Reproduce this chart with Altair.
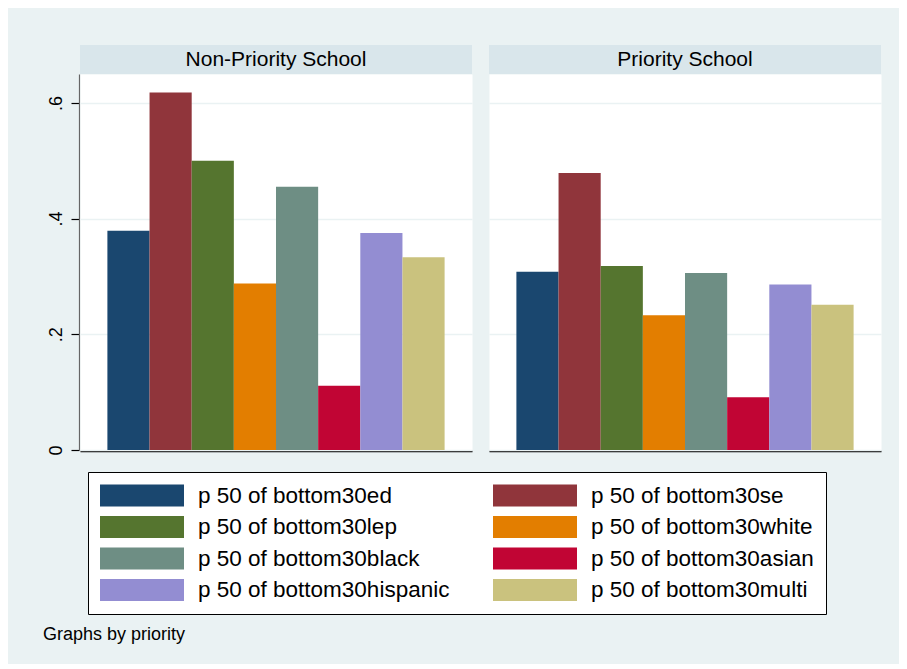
import altair as alt
import pandas as pd

series = [
    "p 50 of bottom30ed", "p 50 of bottom30se", "p 50 of bottom30lep",
    "p 50 of bottom30white", "p 50 of bottom30black", "p 50 of bottom30asian",
    "p 50 of bottom30hispanic", "p 50 of bottom30multi",
]
colors = ["#1A476F", "#90353B", "#55752F", "#E37E00",
          "#6E8E84", "#C10534", "#938DD2", "#CAC27E"]
schools = ["Non-Priority School", "Priority School"]
nonpriority = [0.379, 0.618, 0.500, 0.288, 0.455, 0.111, 0.375, 0.333]
priority = [0.308, 0.479, 0.318, 0.233, 0.306, 0.091, 0.286, 0.251]
yticks = [0, 0.2, 0.4, 0.6]

rows = []
for school, vals in zip(schools, [nonpriority, priority]):
    for i, (ser, v) in enumerate(zip(series, vals)):
        rows.append({"school": school, "series": ser, "value": v, "first": i == 0})
df = pd.DataFrame(rows)

W, H = 392, 376
FONT = "Liberation Sans"
BG = "#EAF2F3"

base = alt.Chart()

bars = base.mark_bar().encode(
    x=alt.X("series:N", sort=series, title=None,
            scale=alt.Scale(paddingInner=0, paddingOuter=0.65),
            axis=alt.Axis(labels=False, ticks=False, grid=False,
                          domainColor="black", domainWidth=1.5)),
    y=alt.Y("value:Q", title=None,
            scale=alt.Scale(domain=[0, 0.65], nice=False, zero=True),
            axis=alt.Axis(values=yticks,
                          labelExpr="datum.value == 0 ? '0' : replace(format(datum.value, '.1f'), '0.', '.')",
                          labelAngle=270, labelFontSize=18, labelColor="black",
                          labelPadding=6, tickSize=8, tickColor="black",
                          tickWidth=1.2, domainColor="#666666", domainWidth=1.2,
                          grid=True, gridColor=BG, gridWidth=1.5)),
    color=alt.Color("series:N", sort=series,
                    scale=alt.Scale(domain=series, range=colors),
                    legend=alt.Legend(
                        title=None, orient="none", legendX=8, legendY=398,
                        columns=2, direction="horizontal",
                        symbolType="M-1,-0.262L1,-0.262L1,0.262L-1,0.262Z",
                        symbolSize=7056, symbolStrokeWidth=0, symbolOpacity=1,
                        clipHeight=23,
                        labelFontSize=22.5, labelFont=FONT, labelColor="black",
                        labelOffset=14, labelLimit=400,
                        columnPadding=43, rowPadding=8.5, padding=12,
                        fillColor="white", strokeColor="black")),
)

strip = base.mark_rect(color="#D9E6EB").encode(
    x=alt.value(0), x2=alt.value(W), y=alt.value(-29), y2=alt.value(0)
).transform_filter("datum.first")

strip_text = base.mark_text(fontSize=21, font=FONT, color="black",
                            baseline="middle", align="center").encode(
    x=alt.value(W / 2), y=alt.value(-14.5), text="school:N"
).transform_filter("datum.first")

layer = alt.layer(bars, strip, strip_text).properties(width=W, height=H)

chart = layer.facet(
    column=alt.Column("school:N", sort=schools, header=None, title=None),
    data=df,
    spacing=15,
).properties(
    title=alt.TitleParams("Graphs by priority", orient="bottom", anchor="start",
                          fontSize=18, font=FONT, fontWeight="normal",
                          color="black", dx=-4, offset=11),
    padding={"left": 35, "top": 36, "right": 17, "bottom": 20},
    background=BG,
).configure(font=FONT).configure_view(fill="white", stroke="transparent")

chart.save("out.html", embed_options={"renderer": "svg", "actions": False})
